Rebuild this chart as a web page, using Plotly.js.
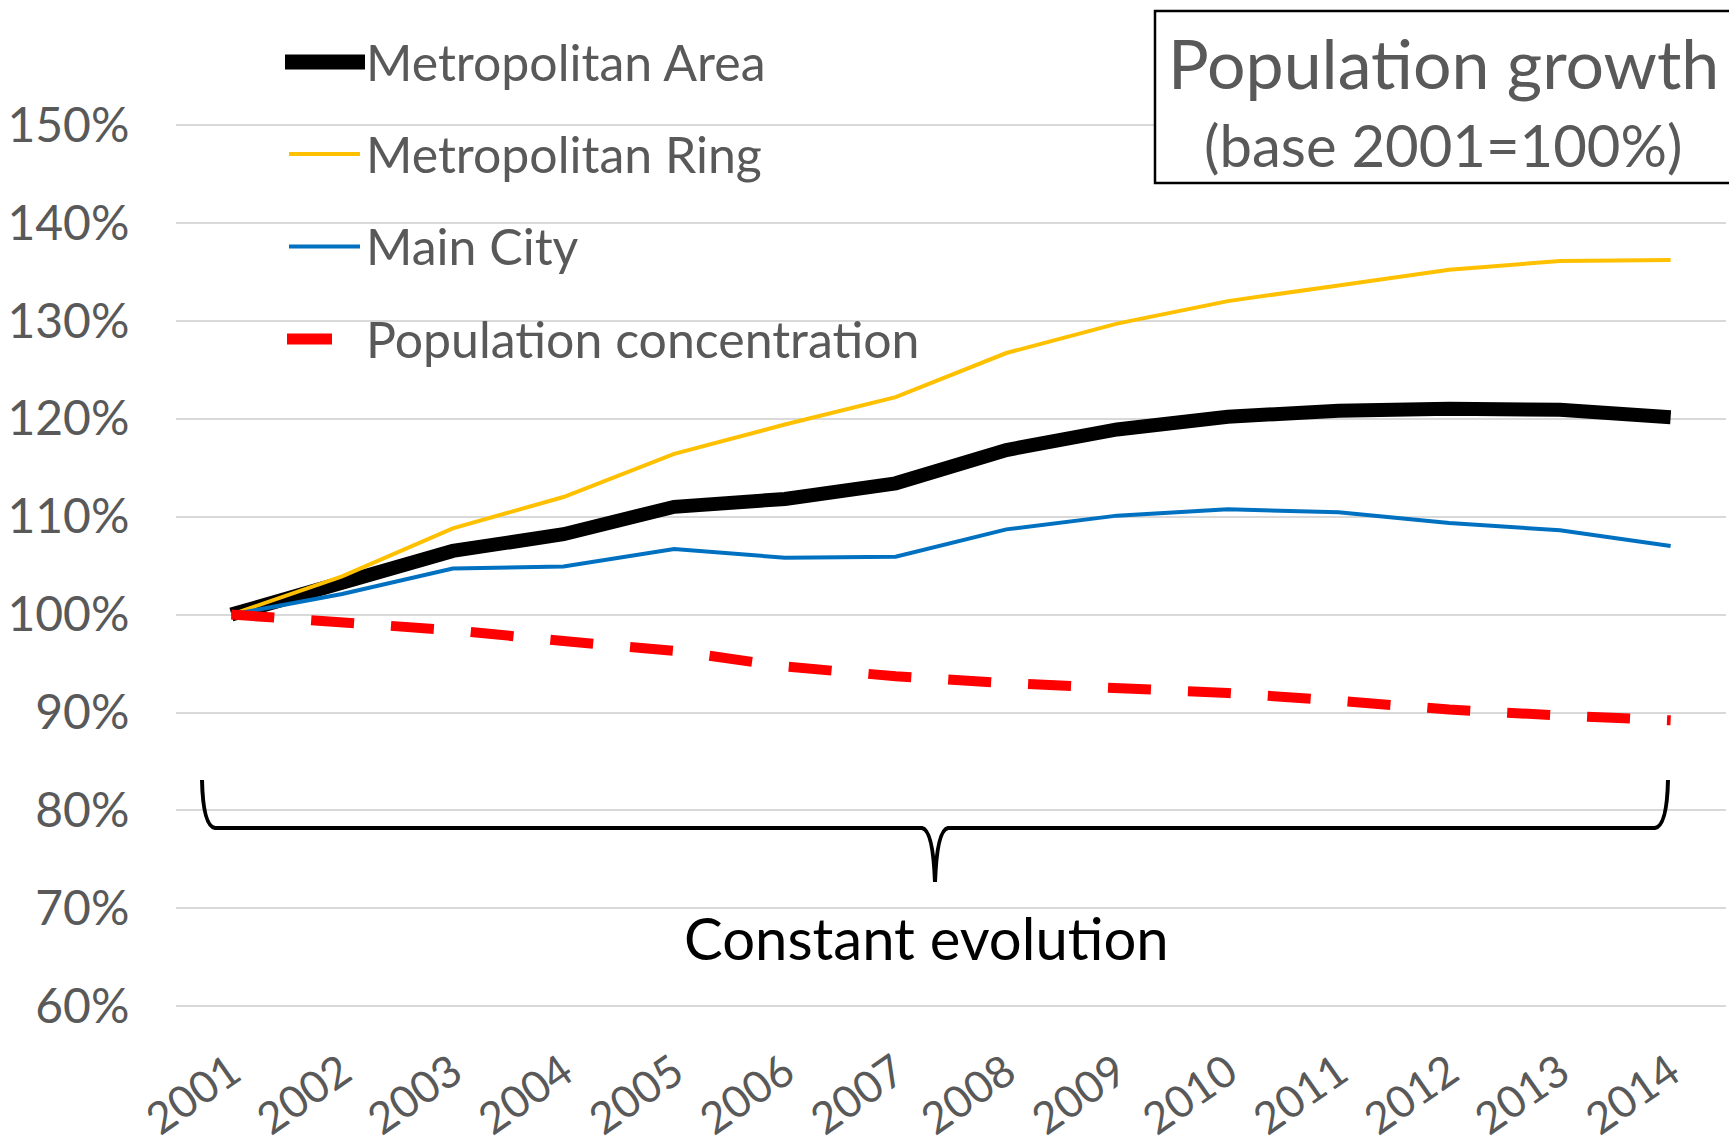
<!DOCTYPE html>
<html>
<head>
<meta charset="utf-8">
<script src="https://cdn.plot.ly/plotly-3.0.1.min.js"></script>
<style>html,body{margin:0;padding:0;background:#fff;}#chart{width:1729px;height:1146px;}</style>
</head>
<body>
<div id="chart"></div>
<script>
// ---- data ----
const years = ['2001','2002','2003','2004','2005','2006','2007','2008','2009','2010','2011','2012','2013','2014'];
const metroArea = [100, 103.1, 106.5, 108.2, 111.0, 111.8, 113.4, 116.8, 118.9, 120.2, 120.8, 121.0, 120.9, 120.15];
const metroRing = [100, 103.9, 108.8, 112.0, 116.4, 119.4, 122.2, 126.7, 129.7, 132.0, 133.6, 135.2, 136.1, 136.2];
const mainCity = [100, 102.1, 104.7, 104.9, 106.7, 105.8, 105.9, 108.7, 110.1, 110.75, 110.45, 109.35, 108.6, 107.0];
const concentration = [100, 99.3, 98.4, 97.3, 96.3, 94.7, 93.7, 93.0, 92.5, 92.0, 91.2, 90.3, 89.7, 89.2];
const seriesNames = ['Metropolitan Area', 'Metropolitan Ring', 'Main City', 'Population concentration'];
const yTicks = [60, 70, 80, 90, 100, 110, 120, 130, 140, 150];
const titleLines = ['Population growth', '(base 2001=100%)'];
const braceLabel = 'Constant evolution';

// ---- layout geometry ----
const W = 1729, H = 1146;
const M = {l: 176, r: 3, t: 66, b: 120};
const pw = W - M.l - M.r, ph = H - M.t - M.b;
const px2x = p => (p - M.l) / pw;
const px2y = p => (H - M.b - p) / ph;

const FONT = 'Lato, "Open Sans", sans-serif';
const GREY = '#595959';
const colors = ['#000000', '#FFC000', '#0070C0', '#FF0000'];
const widths = [14, 4, 4, 10];
const dashes = ['solid', 'solid', 'solid', '43px,37px'];
const seriesData = [metroArea, metroRing, mainCity, concentration];

const traces = seriesData.map((vals, i) => ({
  type: 'scatter', mode: 'lines', x: years, y: vals, name: seriesNames[i],
  line: {color: colors[i], width: widths[i], dash: dashes[i]},
  showlegend: false, hoverinfo: 'skip'
}));

const shapes = [];
const annotations = [];

// custom legend
const legY = [62, 154, 246.5, 339];
const legX0 = [285, 289, 289, 287];
const legX1 = [365, 360, 360, 332];
const legW = [15, 4, 4, 11];
seriesNames.forEach((n, i) => {
  shapes.push({type: 'line', xref: 'paper', yref: 'paper',
    x0: px2x(legX0[i]), x1: px2x(legX1[i]),
    y0: px2y(legY[i]), y1: px2y(legY[i]),
    line: {color: colors[i], width: legW[i]}, layer: 'above'});
  annotations.push({xref: 'paper', yref: 'paper', x: px2x(364), y: px2y(legY[i]),
    xanchor: 'left', yanchor: 'middle', text: n, showarrow: false,
    font: {family: FONT, size: 50, color: GREY}});
});

// title box
shapes.push({type: 'rect', xref: 'paper', yref: 'paper', x0: px2x(1155), x1: px2x(1740),
  y0: px2y(183), y1: px2y(11), line: {color: '#000', width: 2.5}, fillcolor: '#fff', layer: 'above'});
annotations.push({xref: 'paper', yref: 'paper', x: px2x(1443), y: px2y(63), xanchor: 'center', yanchor: 'middle',
  text: titleLines[0], showarrow: false, font: {family: FONT, size: 68, color: GREY}});
annotations.push({xref: 'paper', yref: 'paper', x: px2x(1443), y: px2y(144), xanchor: 'center', yanchor: 'middle',
  text: titleLines[1], showarrow: false, font: {family: FONT, size: 58, color: GREY}});

// brace
function pp(x, y) { return `${px2x(x)},${px2y(y)}`; }
const bracePath = `M ${pp(202,780)} Q ${pp(203,826)} ${pp(215,828)} L ${pp(922,828)} Q ${pp(933,830)} ${pp(935,882)} Q ${pp(937,830)} ${pp(948,828)} L ${pp(1655,828)} Q ${pp(1667,826)} ${pp(1668,780)}`;
shapes.push({type: 'path', xref: 'paper', yref: 'paper', path: bracePath,
  line: {color: '#000', width: 4}, layer: 'above'});
annotations.push({xref: 'paper', yref: 'paper', x: px2x(926), y: px2y(937), xanchor: 'center', yanchor: 'middle',
  text: braceLabel, showarrow: false, font: {family: FONT, size: 58, color: '#000'}});

const layout = {
  width: W, height: H,
  margin: M,
  paper_bgcolor: '#fff', plot_bgcolor: '#fff',
  font: {family: FONT, color: GREY},
  xaxis: {
    type: 'category', range: [-0.5, 13.5], showgrid: false, zeroline: false, showline: false,
    tickangle: -35, ticks: 'outside', ticklen: 2, tickcolor: 'rgba(0,0,0,0)',
    tickfont: {family: FONT, size: 44, color: GREY}, fixedrange: true, automargin: false
  },
  yaxis: {
    range: [58, 156], tickvals: yTicks, ticktext: yTicks.map(v => v + '%'),
    showgrid: true, gridcolor: '#d9d9d9', gridwidth: 2, zeroline: false, showline: false,
    ticks: 'outside', ticklen: 36, tickcolor: 'rgba(0,0,0,0)',
    tickfont: {family: FONT, size: 48, color: GREY}, fixedrange: true, automargin: false
  },
  shapes: shapes,
  annotations: annotations,
  showlegend: false
};

Plotly.newPlot('chart', traces, layout, {displayModeBar: false, staticPlot: true});
</script>
</body>
</html>
